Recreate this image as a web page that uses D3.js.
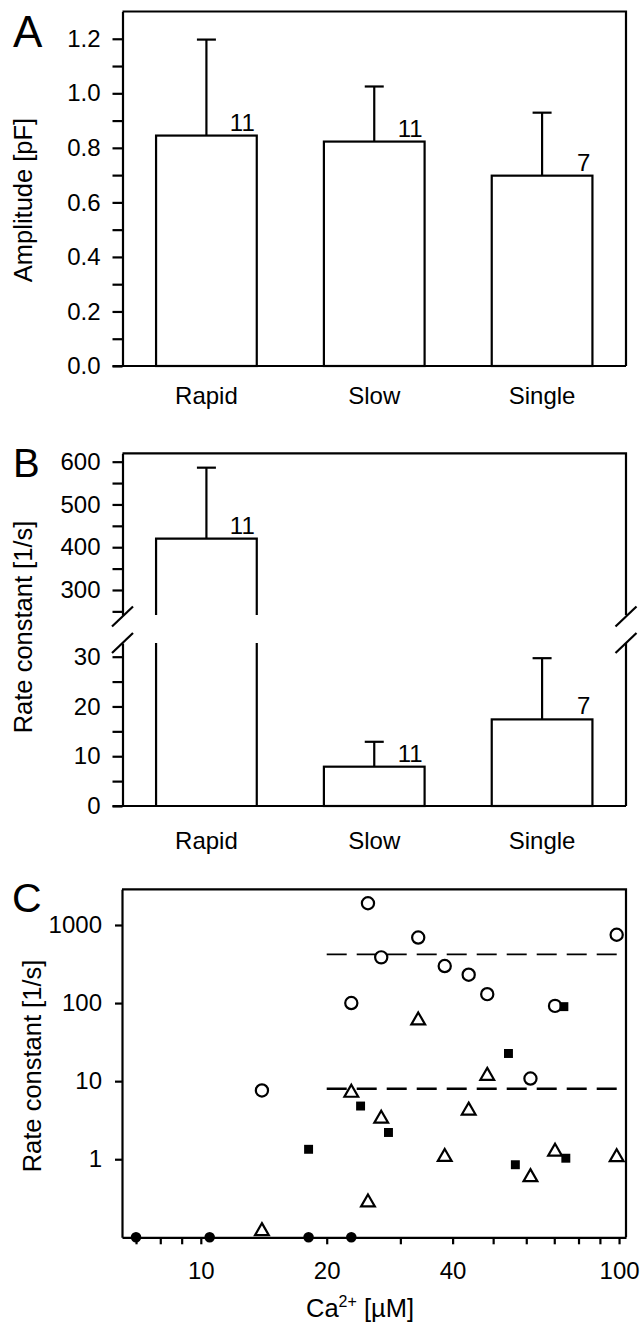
<!DOCTYPE html>
<html>
<head>
<meta charset="utf-8">
<script src="https://cdn.jsdelivr.net/npm/d3@7"></script>
<style>
  body { margin: 0; background: #fff; }
  svg { display: block; font-family: 'Liberation Sans', Arial, sans-serif; }
  .axis .domain, .axis .tick line { stroke: #000; stroke-width: 2.2; }
  .axis text { font-size: 24px; fill: #000; font-family: 'Liberation Sans', Arial, sans-serif; }
</style>
</head>
<body>
<div id="fig"></div>
<script>
// ---- data ----
const groups = ['Rapid', 'Slow', 'Single'];
const nCells = [11, 11, 7];

// panel A: amplitude [pF]
const ampMean = [0.845, 0.823, 0.698];
const ampSD = [0.352, 0.202, 0.231];

// panel B: rate constant [1/s]
const rateMean = [420, 7.9, 17.4];
const rateSD = [166, 5.0, 12.3];

// panel C: rate constant vs Ca2+ (biphasic cells give a rapid and a slow value)
const biCa = [14.0, 22.9, 25.1, 27.0, 33.1, 38.3, 43.7, 48.4, 61.4, 70.3, 98.7];
const rapidK = [7.6, 100, 1900, 385, 690, 298, 231, 130, 10.8, 92, 750];
const slowK = [0.12, 7.1, 0.28, 3.3, 60, 1.07, 4.2, 11.7, 0.59, 1.25, 1.06];
const singleCa = [18.1, 24.1, 28.1, 54.4, 56.5, 73.8, 74.6];
const singleK = [1.34, 4.8, 2.2, 22.6, 0.85, 90, 1.03];
const noneCa = [7.0, 10.5, 18.1, 22.9];   // no response, drawn on the axis
const noneK = [0.1, 0.1, 0.1, 0.1];
const meanLines = [420, 8.0];

// tick labels
const ampTicks = [0, 0.2, 0.4, 0.6, 0.8, 1.0, 1.2];
const rateTicksUp = [300, 400, 500, 600];
const rateTicksLo = [0, 10, 20, 30];
const caTicks = [10, 20, 40, 100];
const kTicks = [1, 10, 100, 1000];

// ---- layout ----
const plotL = 122.5;
const plotR = 626;

const svg = d3
  .select('#fig')
  .append('svg')
  .attr('width', 642)
  .attr('height', 1334);

const x = d3
  .scaleBand()
  .domain(groups)
  .range([plotL, plotR])
  .paddingInner(0.4)
  .paddingOuter(0.2);
const bw = x.bandwidth();

function line(path, width) {
  svg.append('path').attr('d', path).attr('fill', 'none')
    .attr('stroke', '#000').attr('stroke-width', width || 2.2);
}

function label(txt, px, py, size, anchor) {
  return svg.append('text').attr('x', px).attr('y', py)
    .attr('font-size', size + 'px').attr('text-anchor', anchor || 'start')
    .attr('fill', '#000').text(txt);
}

function yTitle(txt, px, py) {
  svg.append('text')
    .attr('transform', `translate(${px},${py}) rotate(-90)`)
    .attr('text-anchor', 'middle')
    .attr('font-size', '25.5px')
    .text(txt);
}

function errorBar(cx, y0, y1) {
  line(`M${cx},${y0}V${y1}`);
  line(`M${cx - 9.5},${y1}H${cx + 9.5}`);
}

// ================= Panel A =================
const aTop = 11.5, aBot = 366;
const yA = d3.scaleLinear().domain([0, 1.3]).range([aBot, aTop]);

line(`M${plotL},${aTop}H${plotR}V${aBot}`);
line(`M${plotL - 10},${aBot}H${plotR}`);

svg.append('g')
  .attr('class', 'axis')
  .attr('transform', `translate(${plotL},0)`)
  .call(d3.axisLeft(yA)
    .tickValues(d3.range(0, 13).map(i => i / 10))
    .tickSize(10).tickSizeOuter(0).tickPadding(12)
    .tickFormat(d => ampTicks.some(t => Math.abs(t - d) < 1e-6) ? d3.format('.1f')(d) : ''));

groups.forEach((g, i) => {
  const x0 = x(g);
  const top = yA(ampMean[i]);
  svg.append('rect')
    .attr('x', x0).attr('y', top)
    .attr('width', bw).attr('height', aBot - top)
    .attr('fill', '#fff').attr('stroke', '#000').attr('stroke-width', 2.2);
  errorBar(x0 + bw / 2, top, yA(ampMean[i] + ampSD[i]));
  label(nCells[i], x0 + bw - 2, top - 4.5, 24, 'end');
  label(g, x0 + bw / 2, 404, 24, 'middle');
});

yTitle('Amplitude [pF]', 32, 200);
label('A', 13, 47, 44);

// ================= Panel B =================
const bTop = 453.3, bBot = 806, brkUp = 615, brkLo = 643;
const yUp = d3.scaleLinear().domain([241.5, 619.6]).range([brkUp, bTop]);
const yLo = d3.scaleLinear().domain([0, 32.75]).range([bBot, brkLo]);

line(`M${plotL},${bTop}H${plotR}V${brkUp}`);
line(`M${plotR},${brkLo}V${bBot}`);
line(`M${plotL - 10},${bBot}H${plotR}`);

svg.append('g')
  .attr('class', 'axis')
  .attr('transform', `translate(${plotL},0)`)
  .call(d3.axisLeft(yUp)
    .tickValues(d3.range(250, 601, 50))
    .tickSize(10).tickSizeOuter(0).tickPadding(12)
    .tickFormat(d => rateTicksUp.includes(d) ? d : ''));

svg.append('g')
  .attr('class', 'axis')
  .attr('transform', `translate(${plotL},0)`)
  .call(d3.axisLeft(yLo)
    .tickValues(d3.range(0, 31, 5))
    .tickSize(10).tickSizeOuter(0).tickPadding(12)
    .tickFormat(d => rateTicksLo.includes(d) ? d : ''));

// axis break marks
[plotL, plotR].forEach(bx => {
  [brkUp + 1.5, brkLo].forEach(by => {
    line(`M${bx - 10.5},${by + 10}L${bx + 10.5},${by - 10}`);
  });
});

groups.forEach((g, i) => {
  const x0 = x(g), x1 = x0 + bw, cx = x0 + bw / 2;
  const m = rateMean[i];
  const upper = m > yLo.domain()[1];
  const ys = upper ? yUp : yLo;
  const top = ys(m);
  if (upper) {
    line(`M${x0},${brkUp}V${top}H${x1}V${brkUp}`);
    line(`M${x0},${brkLo}V${bBot}`);
    line(`M${x1},${brkLo}V${bBot}`);
  } else {
    svg.append('rect')
      .attr('x', x0).attr('y', top)
      .attr('width', bw).attr('height', bBot - top)
      .attr('fill', '#fff').attr('stroke', '#000').attr('stroke-width', 2.2);
  }
  errorBar(cx, top, ys(m + rateSD[i]));
  label(nCells[i], x1 - 2, top - 5, 24, 'end');
  label(g, cx, 849, 24, 'middle');
});

yTitle('Rate constant [1/s]', 32, 627);
label('B', 13, 477, 40);

// ================= Panel C =================
const cTop = 889.3, cBot = 1237.3, cL = 122, cR = 626;
const xC = d3.scaleLog().domain([6.48, 103.9]).range([cL, cR]);
const yC = d3.scaleLog().domain([0.1, 2865]).range([cBot, cTop]);

line(`M${cL},${cTop}H${cR}V${cBot}`);

svg.append('g')
  .attr('class', 'axis')
  .attr('transform', `translate(0,${cBot})`)
  .call(d3.axisBottom(xC)
    .tickValues([7, 8, 9, 10, 20, 30, 40, 50, 60, 70, 80, 90, 100])
    .tickSize(7).tickSizeOuter(0).tickPadding(18)
    .tickFormat(d => caTicks.includes(d) ? d : ''));

svg.append('g')
  .attr('class', 'axis')
  .attr('transform', `translate(${cL},0)`)
  .call(d3.axisLeft(yC)
    .tickValues(kTicks)
    .tickSize(7).tickSizeOuter(0).tickPadding(13)
    .tickFormat(d => d));

// mean rapid and slow rate constants
meanLines.forEach((v, i) => {
  svg.append('line')
    .attr('x1', xC(20)).attr('x2', cR)
    .attr('y1', yC(v)).attr('y2', yC(v))
    .attr('stroke', '#000')
    .attr('stroke-width', i === 0 ? 1.9 : 2.5)
    .attr('stroke-dasharray', '20,10');
});

// rapid: open circles
svg.append('g')
  .selectAll('circle')
  .data(biCa.map((c, i) => [c, rapidK[i]]))
  .enter()
  .append('circle')
  .attr('cx', d => xC(d[0]))
  .attr('cy', d => yC(d[1]))
  .attr('r', 6.1)
  .attr('fill', '#fff')
  .attr('stroke', '#000')
  .attr('stroke-width', 2.2);

// slow: open triangles
svg.append('g')
  .selectAll('path')
  .data(biCa.map((c, i) => [c, slowK[i]]))
  .enter()
  .append('path')
  .attr('d', d3.symbol(d3.symbolTriangle, 82))
  .attr('transform', d => `translate(${xC(d[0])},${yC(d[1])})`)
  .attr('fill', '#fff')
  .attr('stroke', '#000')
  .attr('stroke-width', 2.2);

// single: filled squares
svg.append('g')
  .selectAll('path')
  .data(singleCa.map((c, i) => [c, singleK[i]]))
  .enter()
  .append('path')
  .attr('d', d3.symbol(d3.symbolSquare, 80))
  .attr('transform', d => `translate(${xC(d[0])},${yC(d[1])})`)
  .attr('fill', '#000');

// no response: filled circles
svg.append('g')
  .selectAll('circle')
  .data(noneCa.map((c, i) => [c, noneK[i]]))
  .enter()
  .append('circle')
  .attr('cx', d => xC(d[0]))
  .attr('cy', d => yC(d[1]))
  .attr('r', 5.3)
  .attr('fill', '#000');

yTitle('Rate constant [1/s]', 41, 1066);
label('C', 12, 912, 41);

// x-axis label with superscript
const xl = svg.append('text')
  .attr('x', 360).attr('y', 1317)
  .attr('text-anchor', 'middle')
  .attr('font-size', '25.5px');
xl.append('tspan').text('Ca');
xl.append('tspan').attr('font-size', '16px').attr('dy', -10).text('2+');
xl.append('tspan').attr('dy', 10).text(' [\u00b5M]');
</script>
</body>
</html>
